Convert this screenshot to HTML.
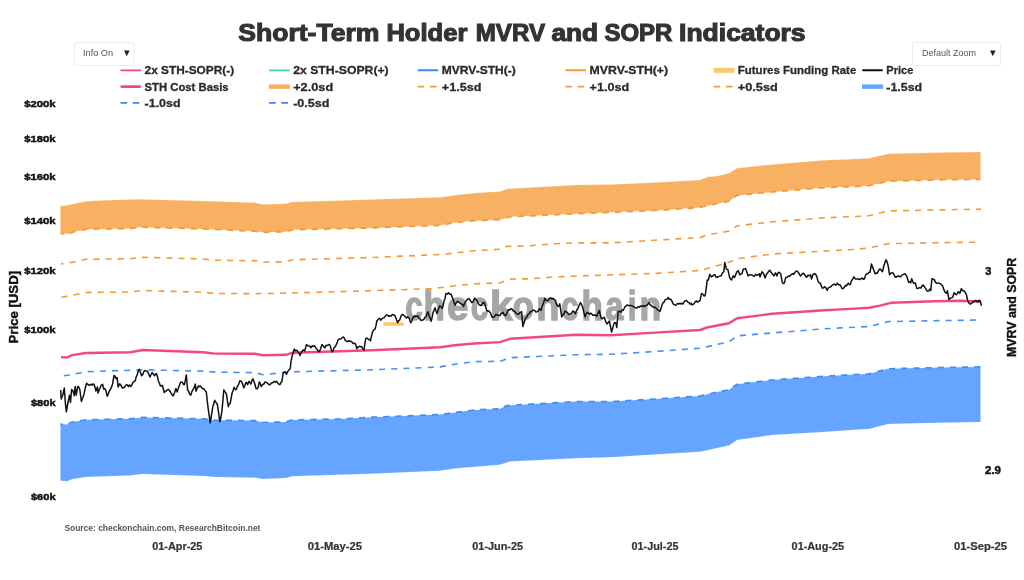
<!DOCTYPE html>
<html><head><meta charset="utf-8"><style>
html,body{margin:0;padding:0;background:#fff;width:1024px;height:580px;overflow:hidden}
svg{display:block;will-change:transform}
text{font-family:"Liberation Sans", sans-serif}
</style></head><body>
<svg width="1024" height="580" viewBox="0 0 1024 580">
<rect width="1024" height="580" fill="#fff"/>
<!-- title -->
<text x="238.3" y="40.9" font-size="23.6" font-weight="bold" fill="#333" stroke="#333" stroke-width="1.1" textLength="141.1" lengthAdjust="spacingAndGlyphs">Short-Term</text>
<text x="386.4" y="40.9" font-size="23.6" font-weight="bold" fill="#333" stroke="#333" stroke-width="1.1" textLength="81.0" lengthAdjust="spacingAndGlyphs">Holder</text>
<text x="475.7" y="40.9" font-size="23.6" font-weight="bold" fill="#333" stroke="#333" stroke-width="1.1" textLength="69.3" lengthAdjust="spacingAndGlyphs">MVRV</text>
<text x="551.4" y="40.9" font-size="23.6" font-weight="bold" fill="#333" stroke="#333" stroke-width="1.1" textLength="46.8" lengthAdjust="spacingAndGlyphs">and</text>
<text x="604.4" y="40.9" font-size="23.6" font-weight="bold" fill="#333" stroke="#333" stroke-width="1.1" textLength="68.0" lengthAdjust="spacingAndGlyphs">SOPR</text>
<text x="679.1" y="40.9" font-size="23.6" font-weight="bold" fill="#333" stroke="#333" stroke-width="1.1" textLength="126.5" lengthAdjust="spacingAndGlyphs">Indicators</text>
<!-- buttons -->
<rect x="74.5" y="42.5" width="59.5" height="23" fill="#fff" stroke="#ececec" stroke-width="1" rx="2"/>
<text x="83" y="56.2" font-size="9.2" fill="#555" textLength="30" lengthAdjust="spacingAndGlyphs">Info On</text>
<path d="M124,50.4 L129.6,50.4 L126.8,56.3 Z" fill="#222"/>
<rect x="912.5" y="42.5" width="88" height="23" fill="#fff" stroke="#ececec" stroke-width="1" rx="2"/>
<text x="922" y="56.2" font-size="9.2" fill="#555" textLength="54" lengthAdjust="spacingAndGlyphs">Default Zoom</text>
<path d="M990,50.4 L995.6,50.4 L992.8,56.3 Z" fill="#222"/>
<line x1="121.2" y1="70.3" x2="140.4" y2="70.3" stroke="#f24a77" stroke-width="1.8" stroke-linecap="round"/>
<text x="144.6" y="74.2" font-size="11.8" font-weight="bold" fill="#2b2b2b" stroke="#2b2b2b" stroke-width="0.3" textLength="89.5" lengthAdjust="spacingAndGlyphs">2x STH-SOPR(-)</text>
<line x1="269.79999999999995" y1="70.3" x2="289.0" y2="70.3" stroke="#3ed68e" stroke-width="1.8" stroke-linecap="round"/>
<text x="293.2" y="74.2" font-size="11.8" font-weight="bold" fill="#2b2b2b" stroke="#2b2b2b" stroke-width="0.3" textLength="95.5" lengthAdjust="spacingAndGlyphs">2x STH-SOPR(+)</text>
<line x1="418.45" y1="70.3" x2="437.55" y2="70.3" stroke="#3b87f5" stroke-width="1.9" stroke-linecap="round"/>
<text x="441.8" y="74.2" font-size="11.8" font-weight="bold" fill="#2b2b2b" stroke="#2b2b2b" stroke-width="0.3" textLength="74" lengthAdjust="spacingAndGlyphs">MVRV-STH(-)</text>
<line x1="566.25" y1="70.3" x2="585.3499999999999" y2="70.3" stroke="#f59a33" stroke-width="1.9" stroke-linecap="round"/>
<text x="589.5999999999999" y="74.2" font-size="11.8" font-weight="bold" fill="#2b2b2b" stroke="#2b2b2b" stroke-width="0.3" textLength="78.5" lengthAdjust="spacingAndGlyphs">MVRV-STH(+)</text>
<line x1="713.5" y1="70.3" x2="734.5" y2="70.3" stroke="#fcc86a" stroke-width="5"/>
<text x="737.8" y="74.2" font-size="11.8" font-weight="bold" fill="#2b2b2b" stroke="#2b2b2b" stroke-width="0.3" textLength="118.5" lengthAdjust="spacingAndGlyphs">Futures Funding Rate</text>
<line x1="862.95" y1="70.3" x2="882.05" y2="70.3" stroke="#111" stroke-width="1.9" stroke-linecap="round"/>
<text x="886.3" y="74.2" font-size="11.8" font-weight="bold" fill="#2b2b2b" stroke="#2b2b2b" stroke-width="0.3" textLength="27" lengthAdjust="spacingAndGlyphs">Price</text>
<line x1="121.7" y1="86.6" x2="139.9" y2="86.6" stroke="#f24a77" stroke-width="2.8" stroke-linecap="round"/>
<text x="144.6" y="90.5" font-size="11.8" font-weight="bold" fill="#2b2b2b" stroke="#2b2b2b" stroke-width="0.3" textLength="84" lengthAdjust="spacingAndGlyphs">STH Cost Basis</text>
<line x1="268.9" y1="86.6" x2="289.9" y2="86.6" stroke="#f8b062" stroke-width="4.5"/>
<text x="293.2" y="90.5" font-size="11.8" font-weight="bold" fill="#2b2b2b" stroke="#2b2b2b" stroke-width="0.3" textLength="40" lengthAdjust="spacingAndGlyphs">+2.0sd</text>
<line x1="418.4" y1="86.6" x2="438.5" y2="86.6" stroke="#f59a33" stroke-width="1.8" stroke-linecap="round" stroke-dasharray="5.2,7.1"/>
<text x="441.8" y="90.5" font-size="11.8" font-weight="bold" fill="#2b2b2b" stroke="#2b2b2b" stroke-width="0.3" textLength="39.6" lengthAdjust="spacingAndGlyphs">+1.5sd</text>
<line x1="566.1999999999999" y1="86.6" x2="586.3" y2="86.6" stroke="#f59a33" stroke-width="1.8" stroke-linecap="round" stroke-dasharray="5.2,7.1"/>
<text x="589.5999999999999" y="90.5" font-size="11.8" font-weight="bold" fill="#2b2b2b" stroke="#2b2b2b" stroke-width="0.3" textLength="39.6" lengthAdjust="spacingAndGlyphs">+1.0sd</text>
<line x1="714.4" y1="86.6" x2="734.5" y2="86.6" stroke="#f59a33" stroke-width="1.8" stroke-linecap="round" stroke-dasharray="5.2,7.1"/>
<text x="737.8" y="90.5" font-size="11.8" font-weight="bold" fill="#2b2b2b" stroke="#2b2b2b" stroke-width="0.3" textLength="40" lengthAdjust="spacingAndGlyphs">+0.5sd</text>
<line x1="862" y1="86.6" x2="883" y2="86.6" stroke="#66a5ff" stroke-width="4.5"/>
<text x="886.3" y="90.5" font-size="11.8" font-weight="bold" fill="#2b2b2b" stroke="#2b2b2b" stroke-width="0.3" textLength="35.8" lengthAdjust="spacingAndGlyphs">-1.5sd</text>
<line x1="121.2" y1="102.9" x2="141.3" y2="102.9" stroke="#3b87f5" stroke-width="1.8" stroke-linecap="round" stroke-dasharray="5.2,7.1"/>
<text x="144.6" y="106.80000000000001" font-size="11.8" font-weight="bold" fill="#2b2b2b" stroke="#2b2b2b" stroke-width="0.3" textLength="36" lengthAdjust="spacingAndGlyphs">-1.0sd</text>
<line x1="269.79999999999995" y1="102.9" x2="289.9" y2="102.9" stroke="#3b87f5" stroke-width="1.8" stroke-linecap="round" stroke-dasharray="5.2,7.1"/>
<text x="293.2" y="106.80000000000001" font-size="11.8" font-weight="bold" fill="#2b2b2b" stroke="#2b2b2b" stroke-width="0.3" textLength="36.3" lengthAdjust="spacingAndGlyphs">-0.5sd</text>
<text x="24.2" y="107.2" font-size="9.6" font-weight="bold" fill="#111" stroke="#111" stroke-width="0.45" textLength="31.4" lengthAdjust="spacingAndGlyphs">$200k</text>
<text x="24.2" y="141.6" font-size="9.6" font-weight="bold" fill="#111" stroke="#111" stroke-width="0.45" textLength="31.4" lengthAdjust="spacingAndGlyphs">$180k</text>
<text x="24.2" y="179.5" font-size="9.6" font-weight="bold" fill="#111" stroke="#111" stroke-width="0.45" textLength="31.4" lengthAdjust="spacingAndGlyphs">$160k</text>
<text x="24.2" y="223.8" font-size="9.6" font-weight="bold" fill="#111" stroke="#111" stroke-width="0.45" textLength="31.4" lengthAdjust="spacingAndGlyphs">$140k</text>
<text x="24.2" y="273.8" font-size="9.6" font-weight="bold" fill="#111" stroke="#111" stroke-width="0.45" textLength="31.4" lengthAdjust="spacingAndGlyphs">$120k</text>
<text x="24.2" y="333.1" font-size="9.6" font-weight="bold" fill="#111" stroke="#111" stroke-width="0.45" textLength="31.4" lengthAdjust="spacingAndGlyphs">$100k</text>
<text x="30.9" y="406.2" font-size="9.6" font-weight="bold" fill="#111" stroke="#111" stroke-width="0.45" textLength="24.7" lengthAdjust="spacingAndGlyphs">$80k</text>
<text x="30.9" y="499.9" font-size="9.6" font-weight="bold" fill="#111" stroke="#111" stroke-width="0.45" textLength="24.7" lengthAdjust="spacingAndGlyphs">$60k</text>
<text transform="translate(18.0,307.2) rotate(-90)" x="0" y="0" font-size="13.2" font-weight="bold" fill="#111" stroke="#111" stroke-width="0.4" text-anchor="middle" textLength="72.5" lengthAdjust="spacingAndGlyphs">Price [USD]</text>
<text transform="translate(1015.8,307.4) rotate(-90)" x="0" y="0" font-size="12.8" font-weight="bold" fill="#111" stroke="#111" stroke-width="0.4" text-anchor="middle" textLength="99" lengthAdjust="spacingAndGlyphs">MVRV and SOPR</text>
<text x="985.2" y="274.8" font-size="11" font-weight="bold" fill="#111" stroke="#111" stroke-width="0.45">3</text>
<text x="985" y="473.6" font-size="11" font-weight="bold" fill="#111" stroke="#111" stroke-width="0.45" textLength="16" lengthAdjust="spacingAndGlyphs">2.9</text>
<text x="152.2" y="549.7" font-size="10.2" font-weight="bold" fill="#333" stroke="#333" stroke-width="0.2" textLength="50.2" lengthAdjust="spacingAndGlyphs">01-Apr-25</text>
<text x="307.7" y="549.7" font-size="10.2" font-weight="bold" fill="#333" stroke="#333" stroke-width="0.2" textLength="54.2" lengthAdjust="spacingAndGlyphs">01-May-25</text>
<text x="472.3" y="549.7" font-size="10.2" font-weight="bold" fill="#333" stroke="#333" stroke-width="0.2" textLength="50.7" lengthAdjust="spacingAndGlyphs">01-Jun-25</text>
<text x="631.6" y="549.7" font-size="10.2" font-weight="bold" fill="#333" stroke="#333" stroke-width="0.2" textLength="46.9" lengthAdjust="spacingAndGlyphs">01-Jul-25</text>
<text x="791.6" y="549.7" font-size="10.2" font-weight="bold" fill="#333" stroke="#333" stroke-width="0.2" textLength="52.5" lengthAdjust="spacingAndGlyphs">01-Aug-25</text>
<text x="954.0" y="549.7" font-size="10.2" font-weight="bold" fill="#333" stroke="#333" stroke-width="0.2" textLength="53" lengthAdjust="spacingAndGlyphs">01-Sep-25</text>
<text x="64.4" y="530.6" font-size="8.6" font-weight="bold" fill="#555" textLength="196" lengthAdjust="spacingAndGlyphs">Source: checkonchain.com, ResearchBitcoin.net</text>
<polygon points="60.5,206.1 66.0,205.6 72.0,204.3 80.0,202.5 87.0,201.3 100.0,200.4 137.0,199.3 203.0,201.0 255.0,202.7 263.0,204.4 286.0,203.8 292.0,202.0 372.0,199.5 440.5,197.2 455.0,195.2 474.5,193.0 500.0,191.4 507.7,188.8 576.0,185.0 611.0,184.5 655.0,182.6 700.0,180.0 707.7,177.1 717.5,176.1 729.0,173.2 737.0,168.3 772.0,164.4 824.0,160.3 855.0,159.1 869.0,158.3 888.5,153.8 941.0,152.5 980.5,151.9 980.5,179.4 941.0,179.8 888.0,181.2 869.0,185.7 855.0,186.6 824.0,187.6 772.0,191.9 737.0,195.4 729.0,201.2 707.0,205.7 700.0,207.5 655.0,210.5 611.0,212.3 576.0,213.8 510.0,216.8 500.0,219.7 474.0,220.7 455.0,222.6 440.0,225.3 372.0,227.9 292.0,229.8 286.0,231.8 263.0,232.3 255.0,231.2 203.0,229.0 160.0,227.7 140.0,227.2 130.0,228.6 100.0,228.9 87.0,229.2 75.0,231.4 68.0,233.8 60.5,233.6" fill="#f8b062"/>
<polygon points="60.5,424.1 67.0,424.6 72.0,422.1 86.0,419.8 130.0,418.8 143.0,417.4 203.0,418.8 215.0,420.2 255.0,420.6 263.0,422.5 286.0,421.9 292.0,419.9 340.0,419.0 372.0,417.2 440.0,414.6 455.0,412.5 474.0,410.0 500.0,408.8 507.0,405.5 576.0,401.6 611.0,401.6 655.0,399.0 700.0,396.0 717.0,392.1 729.0,389.8 737.0,384.3 772.0,380.0 824.0,376.3 855.0,374.5 869.0,373.9 888.0,368.8 941.0,367.5 980.5,366.9 980.5,422.1 941.0,422.7 888.0,424.1 869.0,429.0 855.0,429.8 824.0,431.9 772.0,435.1 737.0,440.0 729.0,445.4 700.0,451.7 655.0,454.5 611.0,457.3 576.0,458.2 510.0,461.6 500.0,464.7 455.0,468.4 440.0,470.7 372.0,473.8 292.0,476.2 286.0,478.1 263.0,479.1 255.0,477.7 215.0,477.0 203.0,476.0 143.0,474.1 130.0,475.4 86.0,477.0 72.0,479.3 67.0,481.3 60.5,480.7" fill="#66a5ff"/>
<polyline points="60.5,206.1 66.0,205.6 72.0,204.3 80.0,202.5 87.0,201.3 100.0,200.4 137.0,199.3 203.0,201.0 255.0,202.7 263.0,204.4 286.0,203.8 292.0,202.0 372.0,199.5 440.5,197.2 455.0,195.2 474.5,193.0 500.0,191.4 507.7,188.8 576.0,185.0 611.0,184.5 655.0,182.6 700.0,180.0 707.7,177.1 717.5,176.1 729.0,173.2 737.0,168.3 772.0,164.4 824.0,160.3 855.0,159.1 869.0,158.3 888.5,153.8 941.0,152.5 980.5,151.9" fill="none" stroke="#fff" stroke-width="1" stroke-dasharray="1.5,1.5" opacity="0.35"/>
<polyline points="60.5,480.7 67.0,481.3 72.0,479.3 86.0,477.0 130.0,475.4 143.0,474.1 203.0,476.0 215.0,477.0 255.0,477.7 263.0,479.1 286.0,478.1 292.0,476.2 372.0,473.8 440.0,470.7 455.0,468.4 500.0,464.7 510.0,461.6 576.0,458.2 611.0,457.3 655.0,454.5 700.0,451.7 729.0,445.4 737.0,440.0 772.0,435.1 824.0,431.9 855.0,429.8 869.0,429.0 888.0,424.1 941.0,422.7 980.5,422.1" fill="none" stroke="#fff" stroke-width="1" stroke-dasharray="1.5,1.5" opacity="0.35"/>
<polyline points="60.5,233.6 68.0,233.8 75.0,231.4 87.0,229.2 100.0,228.9 130.0,228.6 140.0,227.2 160.0,227.7 203.0,229.0 255.0,231.2 263.0,232.3 286.0,231.8 292.0,229.8 372.0,227.9 440.0,225.3 455.0,222.6 474.0,220.7 500.0,219.7 510.0,216.8 576.0,213.8 611.0,212.3 655.0,210.5 700.0,207.5 707.0,205.7 729.0,201.2 737.0,195.4 772.0,191.9 824.0,187.6 855.0,186.6 869.0,185.7 888.0,181.2 941.0,179.8 980.5,179.4" fill="none" stroke="#f59a33" stroke-width="1.7" stroke-dasharray="6.1,6.06" stroke-dashoffset="2.84" />
<polyline points="60.5,424.1 67.0,424.6 72.0,422.1 86.0,419.8 130.0,418.8 143.0,417.4 203.0,418.8 215.0,420.2 255.0,420.6 263.0,422.5 286.0,421.9 292.0,419.9 340.0,419.0 372.0,417.2 440.0,414.6 455.0,412.5 474.0,410.0 500.0,408.8 507.0,405.5 576.0,401.6 611.0,401.6 655.0,399.0 700.0,396.0 717.0,392.1 729.0,389.8 737.0,384.3 772.0,380.0 824.0,376.3 855.0,374.5 869.0,373.9 888.0,368.8 941.0,367.5 980.5,366.9" fill="none" stroke="#3f8ef5" stroke-width="1.7" stroke-dasharray="6.1,6.06" stroke-dashoffset="3.92" />
<polyline points="61.0,264.0 72.0,262.2 86.0,259.3 130.0,258.7 143.0,257.3 203.0,259.0 215.0,260.2 255.0,260.7 263.0,262.0 286.0,261.8 292.0,259.8 372.0,257.5 440.0,254.5 455.0,253.0 474.0,250.7 500.0,249.3 507.0,246.4 530.0,245.8 545.0,244.5 555.0,243.7 576.0,242.9 611.0,242.9 655.0,240.2 700.0,237.6 707.0,235.0 729.0,231.1 737.0,225.9 772.0,221.8 824.0,217.9 855.0,216.5 869.0,215.8 888.0,210.9 941.0,209.9 981.0,209.1" fill="none" stroke="#f59a33" stroke-width="1.6" stroke-dasharray="6.1,6.06" stroke-dashoffset="3.58" />
<polyline points="61.0,297.3 72.0,295.4 86.0,292.5 130.0,291.9 143.0,290.5 203.0,292.3 215.0,293.4 255.0,293.7 292.0,293.0 372.0,290.7 430.0,288.7 440.0,287.7 455.0,285.8 474.0,283.8 500.0,282.9 510.0,279.1 530.0,278.8 550.0,277.3 576.0,276.0 655.0,273.4 700.0,270.5 707.0,268.6 729.0,262.3 737.0,258.8 772.0,254.0 855.0,249.4 869.0,248.0 888.0,243.7 941.0,242.7 980.0,242.1" fill="none" stroke="#f59a33" stroke-width="1.6" stroke-dasharray="6.1,6.06" stroke-dashoffset="11.53" />
<polyline points="61.0,376.0 70.0,375.0 86.0,371.7 143.0,369.8 203.0,371.1 215.0,372.1 255.0,372.7 263.0,374.7 292.0,371.8 372.0,369.8 440.0,366.9 455.0,364.2 474.0,361.6 500.0,361.3 510.0,357.7 576.0,354.8 611.0,354.2 655.0,351.5 700.0,348.2 729.0,341.8 737.0,335.9 772.0,333.0 824.0,328.8 855.0,327.2 869.0,326.5 888.0,321.6 941.0,320.6 980.0,320.0" fill="none" stroke="#4490f5" stroke-width="1.6" stroke-dasharray="6.1,6.06" stroke-dashoffset="9.37" />
<g fill="#a6a6a6" stroke="#a6a6a6" stroke-width="1.4" font-size="41.5" font-weight="bold"><text x="405.2" y="320" textLength="17.4" lengthAdjust="spacingAndGlyphs">c</text><text x="423.6" y="320" textLength="21.29" lengthAdjust="spacingAndGlyphs">h</text><text x="447.0" y="320" textLength="21.4" lengthAdjust="spacingAndGlyphs">e</text><text x="470.8" y="320" textLength="17.4" lengthAdjust="spacingAndGlyphs">c</text><text x="490.0" y="320" textLength="22.62" lengthAdjust="spacingAndGlyphs">k</text><text x="512.6" y="320" textLength="21.44" lengthAdjust="spacingAndGlyphs">o</text><text x="536.2" y="320" textLength="23.15" lengthAdjust="spacingAndGlyphs">n</text><text x="561.0" y="320" textLength="17.4" lengthAdjust="spacingAndGlyphs">c</text><text x="581.4" y="320" textLength="21.35" lengthAdjust="spacingAndGlyphs">h</text><text x="605.4" y="320" textLength="17.93" lengthAdjust="spacingAndGlyphs">a</text><text x="627.8" y="320" textLength="8.69" lengthAdjust="spacingAndGlyphs">i</text><text x="639.4" y="320" textLength="21.7" lengthAdjust="spacingAndGlyphs">n</text></g>
<polyline points="61.0,357.1 67.0,357.5 72.0,355.1 86.0,353.0 130.0,352.2 143.0,350.0 203.0,352.2 215.0,353.6 255.0,353.8 263.0,355.2 286.0,354.8 292.0,352.8 372.0,350.3 440.0,347.3 455.0,345.2 474.0,343.5 500.0,342.1 510.0,338.8 576.0,334.7 611.0,335.3 655.0,332.6 700.0,330.0 707.0,327.5 729.0,323.2 737.0,318.3 752.0,316.4 772.0,313.8 824.0,310.3 855.0,308.6 869.0,307.7 880.0,305.6 891.0,302.8 935.0,301.3 960.0,300.8 980.0,301.5" fill="none" stroke="#f24a77" stroke-width="2.4" stroke-linejoin="round"/>
<rect x="383.4" y="322.2" width="20.4" height="3.6" fill="#fcc86a"/>
<polyline points="60.7,390.0 61.2,399.0 62.8,395.0 64.3,388.0 65.4,403.5 66.4,411.8 67.4,405.5 68.5,400.0 69.5,395.2 70.5,402.4 71.6,389.5 73.1,391.0 74.2,395.7 75.2,386.4 76.2,395.2 77.8,386.4 78.8,387.2 79.8,389.5 81.4,401.4 82.7,398.1 84.0,394.2 85.3,387.8 86.6,383.3 87.9,384.4 89.2,385.4 90.2,385.0 91.2,384.2 92.3,385.1 93.3,383.9 94.3,384.8 95.9,391.0 97.4,386.9 98.0,393.1 99.0,390.4 100.0,388.0 101.3,385.2 102.6,384.3 103.7,389.0 104.7,388.6 105.7,390.0 107.3,396.2 108.6,392.9 109.9,390.0 111.2,387.9 112.5,384.3 114.0,375.5 115.0,376.2 116.1,378.6 117.1,377.6 118.1,386.9 119.7,383.8 121.0,385.3 122.3,388.0 123.3,387.5 124.3,387.4 125.4,385.8 126.4,384.8 127.5,385.0 128.5,386.6 129.6,385.0 130.6,386.4 131.6,385.6 132.7,382.8 133.7,381.7 135.2,380.9 136.1,377.2 137.1,375.0 138.1,371.3 139.1,369.2 140.3,372.0 141.6,375.7 142.7,374.7 143.8,371.5 144.9,370.5 146.2,371.0 147.5,371.2 148.8,374.4 150.0,377.0 151.0,374.5 152.0,372.5 153.3,374.2 154.6,375.7 155.6,373.8 156.5,373.8 157.5,376.7 158.5,381.5 159.4,383.1 160.4,386.0 161.4,386.1 162.3,385.4 163.3,388.8 164.3,392.5 165.3,391.3 166.2,391.1 167.2,390.0 168.2,389.3 169.5,390.5 170.8,392.5 172.1,394.8 173.3,395.8 174.6,392.6 175.9,388.6 177.2,391.9 178.3,388.1 179.4,385.6 180.5,382.2 181.4,382.3 182.4,382.2 183.4,384.3 184.3,384.8 185.3,380.4 186.3,375.0 187.6,389.9 188.7,391.2 189.7,394.4 190.8,395.1 191.9,391.5 193.1,389.4 194.2,387.4 195.3,384.1 196.0,391.2 197.3,387.8 198.6,386.0 199.6,386.5 200.6,386.0 201.7,387.9 202.7,388.7 203.7,388.6 205.0,390.4 206.3,391.9 207.3,401.4 208.3,409.3 209.2,415.7 210.2,422.9 211.5,415.2 212.8,406.7 213.8,403.7 214.7,400.3 216.0,402.4 217.3,404.2 218.6,412.8 219.9,421.6 220.9,417.5 221.8,411.9 222.8,401.9 223.8,389.9 225.1,391.8 226.4,393.8 227.4,400.6 228.3,406.7 229.2,404.1 230.2,403.4 231.1,398.6 232.1,393.0 233.1,390.4 234.1,387.2 235.3,389.8 236.3,389.3 237.3,386.6 238.6,384.4 239.9,380.8 240.9,380.9 241.8,382.0 242.8,384.7 243.8,387.9 244.8,385.7 245.7,382.7 246.6,382.6 247.6,384.6 248.9,381.4 249.9,382.6 250.9,384.0 251.9,380.7 252.8,378.8 253.9,381.2 254.9,384.3 256.0,388.5 257.0,388.8 258.0,387.9 259.3,382.0 260.2,383.5 261.2,386.6 262.5,384.7 263.8,384.0 265.1,382.0 266.4,382.4 267.7,383.3 269.0,384.8 270.3,384.6 271.3,382.9 272.2,382.9 273.2,382.3 274.2,381.4 275.4,382.2 276.7,381.4 277.8,383.2 278.9,384.3 280.0,384.6 280.9,382.5 281.9,381.4 283.2,373.0 284.2,372.2 285.2,371.7 286.4,374.3 287.7,371.7 289.0,369.8 290.3,368.5 291.0,361.3 292.3,355.5 293.2,353.1 294.2,349.1 295.2,350.7 296.2,350.3 297.1,350.5 298.1,352.3 299.1,353.2 300.0,355.5 301.3,352.3 302.6,350.3 303.6,350.1 304.6,351.0 305.6,347.7 306.5,344.5 307.4,345.3 308.4,345.8 309.7,346.3 311.0,347.8 312.1,346.0 313.2,346.3 314.3,345.8 315.2,346.8 316.2,348.4 317.3,349.6 318.3,351.5 319.4,351.6 320.7,348.5 322.0,344.5 323.0,345.6 324.0,347.0 325.0,347.8 325.8,345.5 327.1,345.5 328.4,344.8 329.4,344.5 330.3,346.1 331.3,349.9 332.3,351.9 333.2,350.3 334.2,347.4 335.2,346.9 336.2,344.8 337.1,342.9 338.1,339.6 339.4,339.1 340.7,339.0 342.0,337.8 343.3,337.0 344.2,337.8 345.2,340.3 346.5,341.2 347.8,341.6 349.1,340.6 350.4,341.6 351.7,341.6 353.0,343.5 354.3,343.2 355.6,344.2 356.9,348.7 357.9,347.0 358.8,346.7 359.8,346.3 360.8,346.7 361.8,346.7 362.7,348.7 364.0,350.0 364.9,343.1 365.9,338.3 367.2,338.2 368.5,339.6 369.5,339.4 370.5,340.9 371.4,336.4 372.4,332.5 373.7,329.9 375.0,329.3 375.9,325.9 376.9,320.9 377.9,319.9 378.9,318.3 379.9,318.5 380.8,320.2 381.9,318.8 382.9,318.1 384.0,317.6 385.1,316.5 386.2,315.1 387.3,315.1 388.6,316.2 389.9,315.7 391.1,316.1 392.4,314.4 393.7,315.0 395.0,315.7 396.3,319.2 397.6,322.8 398.6,320.6 399.6,320.2 400.9,316.4 402.1,314.4 403.2,314.9 404.3,315.6 405.4,317.0 406.5,317.9 407.5,316.7 408.6,317.6 409.6,319.2 410.6,322.8 411.9,320.9 413.1,317.0 414.1,316.9 415.1,315.9 416.0,316.6 417.0,316.3 418.0,316.1 419.0,318.1 420.0,318.9 421.1,320.6 422.1,320.1 423.1,320.1 424.1,318.9 425.0,317.2 426.0,316.9 426.9,314.0 427.9,311.7 429.2,316.2 430.2,318.1 431.2,321.4 432.1,317.4 433.1,312.3 434.1,310.1 435.1,307.8 436.1,311.3 437.0,313.6 438.3,309.4 439.6,305.9 440.9,306.6 442.2,308.5 443.1,305.3 444.1,300.7 445.1,298.2 446.0,293.6 447.3,294.0 448.6,292.9 449.9,294.2 451.2,294.2 452.2,297.5 453.2,299.4 454.1,302.8 455.1,305.2 456.4,302.6 457.7,301.3 459.0,302.3 460.3,303.3 461.4,304.0 462.4,304.4 463.5,306.5 464.6,303.3 465.6,301.7 466.7,300.1 468.0,298.9 469.3,298.8 470.6,301.1 471.9,302.6 473.2,301.4 474.5,298.1 475.8,299.3 477.1,300.7 478.2,303.2 479.2,304.8 480.3,305.2 481.3,305.6 482.2,303.6 483.2,302.6 484.2,302.6 485.5,306.2 486.8,311.0 488.1,310.7 489.4,311.7 490.5,313.0 491.5,315.8 492.6,317.5 493.7,317.3 494.8,316.1 495.9,314.3 497.0,314.7 498.0,315.5 499.1,315.6 500.1,315.4 501.1,313.0 502.0,313.5 503.0,312.3 504.3,314.9 505.6,315.6 506.9,313.3 508.1,309.8 509.1,310.2 510.1,309.4 511.0,308.6 512.0,309.1 513.3,311.0 514.5,311.3 515.8,313.0 516.9,313.9 518.0,314.4 519.1,313.6 520.4,312.4 521.6,311.7 522.9,326.6 524.2,322.2 525.5,318.2 526.8,317.2 528.1,314.3 529.2,313.9 530.2,311.8 531.3,311.7 532.4,310.4 533.5,310.1 534.6,310.4 535.9,311.9 537.2,311.7 538.2,311.1 539.1,309.1 540.0,309.0 541.0,310.4 542.3,305.9 543.6,302.7 544.9,298.1 546.2,300.5 547.5,300.7 548.8,299.7 550.1,298.1 551.1,298.1 552.0,298.9 553.0,298.3 554.0,299.4 555.0,299.9 555.9,302.6 557.2,305.6 558.5,306.5 559.8,303.9 560.8,310.7 561.7,316.9 562.8,315.0 563.9,313.9 565.0,311.0 566.3,311.9 567.6,313.0 568.9,314.5 570.2,314.3 571.5,313.4 572.7,311.0 574.0,311.7 575.3,313.6 576.6,310.5 577.9,308.5 579.2,305.1 580.5,302.6 581.8,305.0 583.1,308.5 584.0,312.9 585.0,316.9 586.0,314.1 587.0,312.3 588.3,313.1 589.6,314.3 590.5,313.1 591.5,313.6 592.8,315.2 594.1,314.9 595.4,315.2 596.7,316.2 598.0,313.2 599.3,310.4 600.2,314.5 601.2,318.2 602.3,318.9 603.3,317.6 604.4,317.5 605.7,321.7 607.0,324.0 608.2,322.5 609.4,321.0 610.5,326.6 611.6,332.0 612.7,328.0 613.8,323.9 614.9,322.5 616.0,323.2 616.7,327.6 618.2,311.5 619.2,311.6 620.1,311.3 621.1,312.2 622.1,309.9 623.1,310.4 624.1,308.5 625.1,306.6 626.0,306.0 627.0,304.9 628.2,305.6 629.5,305.5 630.7,305.6 631.9,305.7 633.1,306.6 634.3,307.1 635.3,307.5 636.3,308.2 637.3,307.8 638.4,306.6 639.5,307.2 640.6,306.1 641.7,306.3 642.8,305.6 643.9,306.5 645.0,305.8 646.1,305.6 647.1,304.8 648.0,304.2 649.0,302.7 650.0,304.8 650.9,305.0 651.9,306.3 653.1,307.0 654.4,307.3 655.6,307.8 656.7,308.8 657.8,310.1 658.9,310.5 660.0,311.5 661.0,308.6 661.9,305.6 662.9,302.7 664.0,302.2 665.1,299.7 666.1,299.4 667.0,299.1 668.0,297.5 669.1,299.2 670.2,299.0 671.3,299.9 672.4,302.1 673.5,304.4 674.6,304.9 675.8,305.4 677.1,303.6 678.3,304.1 679.4,303.3 680.5,304.0 681.6,303.2 682.7,304.1 683.9,302.3 685.2,300.8 686.4,300.5 687.4,301.6 688.3,302.6 689.3,302.7 690.3,304.3 691.2,303.4 692.2,304.9 693.2,304.4 694.2,303.3 695.2,301.9 696.4,300.9 697.6,302.3 698.8,301.2 700.0,300.7 701.6,293.4 703.1,294.5 704.2,296.0 705.2,295.5 706.2,288.3 707.2,280.0 708.3,280.0 709.8,274.3 711.4,276.9 712.9,275.9 714.0,274.7 715.0,274.8 716.0,277.1 717.1,277.4 718.1,276.7 719.2,276.4 720.2,275.9 721.2,275.7 722.2,273.3 723.8,271.7 724.8,262.4 726.4,269.1 727.9,269.6 729.5,276.9 730.5,279.2 731.5,280.0 733.1,275.9 734.6,277.4 736.2,273.3 737.2,271.3 738.3,270.7 739.8,274.8 740.8,274.1 741.9,273.8 743.4,269.1 744.5,268.9 745.5,268.6 746.8,271.9 748.1,275.9 749.4,274.7 750.7,274.8 752.0,275.0 753.3,275.9 754.5,276.2 755.7,274.4 756.9,275.3 758.2,274.7 759.5,273.8 760.0,276.9 761.0,274.2 762.0,271.7 763.6,273.8 765.1,277.9 766.4,274.3 767.7,272.8 768.8,271.1 769.8,270.2 770.8,272.0 771.9,273.3 772.9,274.6 773.9,275.9 775.5,272.8 777.0,275.9 778.0,273.1 779.1,272.2 780.7,273.8 782.2,282.1 783.2,283.7 784.3,283.1 785.8,277.4 787.1,277.3 788.4,275.9 789.7,276.4 791.0,274.8 792.3,273.7 793.6,274.3 794.7,272.5 795.7,271.7 797.0,270.9 798.2,272.2 799.5,274.7 800.7,275.9 801.7,274.5 802.8,273.4 803.8,273.3 804.8,274.9 805.9,276.9 806.9,277.0 807.9,275.3 809.2,275.8 810.5,274.8 811.5,279.0 813.1,274.3 814.4,273.8 815.7,274.3 816.8,276.6 817.8,280.5 819.0,282.7 820.3,283.1 821.3,285.9 822.4,288.3 823.5,287.9 824.5,286.7 825.8,287.6 827.1,290.3 828.4,287.8 829.6,287.2 830.8,286.7 832.1,285.3 833.3,284.6 834.5,284.0 835.8,285.2 837.4,283.1 838.4,284.8 839.5,284.8 840.5,285.2 842.1,288.8 843.4,288.4 844.6,286.7 845.7,285.3 846.7,285.7 848.3,283.1 849.3,284.6 850.3,284.6 851.3,281.1 852.4,279.5 853.9,276.9 855.0,278.7 856.0,279.0 857.2,279.1 858.4,279.0 859.6,279.5 860.9,278.8 862.2,277.9 863.2,279.4 864.3,279.0 865.8,274.8 866.8,273.8 867.9,273.8 869.0,272.2 870.0,272.2 871.5,264.0 872.5,266.9 873.6,269.6 875.1,273.8 876.2,273.0 877.2,273.3 878.8,270.2 879.8,269.0 880.8,269.6 882.4,271.7 883.9,266.0 885.0,262.2 886.0,259.8 887.0,261.7 888.1,265.5 889.6,274.8 890.6,273.4 891.6,272.9 892.6,272.6 893.9,274.5 895.2,277.2 896.2,277.3 897.2,276.2 898.4,275.9 899.7,276.5 900.9,276.7 901.9,275.1 903.0,274.6 904.0,274.1 905.2,273.8 906.5,275.7 907.5,278.5 908.6,282.4 909.7,281.6 910.7,282.9 911.7,278.8 912.8,281.6 913.8,283.4 915.3,282.9 916.9,288.6 918.2,288.2 919.5,287.6 921.0,288.1 922.0,285.9 923.1,285.0 924.4,286.7 925.7,288.6 927.2,291.2 928.5,291.1 929.8,289.1 930.8,290.7 931.9,278.8 933.4,279.3 934.5,280.0 935.5,282.4 936.8,283.4 938.1,282.9 939.4,283.3 940.7,284.0 941.7,285.0 942.7,286.0 943.8,289.6 945.1,292.2 946.4,293.3 947.4,290.7 948.9,299.5 950.0,298.5 951.0,297.9 952.6,297.4 954.1,292.7 955.2,293.8 956.2,294.8 957.2,293.7 958.3,291.7 959.8,293.3 961.4,288.6 962.6,290.7 963.9,290.7 965.2,292.4 966.5,294.8 967.6,300.5 968.9,303.0 970.1,304.1 971.4,303.6 972.7,302.1 973.7,301.9 974.8,300.8 975.8,300.5 976.8,301.0 977.9,302.1 979.0,300.3 980.0,300.5 981.5,305.7" fill="none" stroke="#111" stroke-width="1.5" stroke-linejoin="round"/>
</svg></body></html>
